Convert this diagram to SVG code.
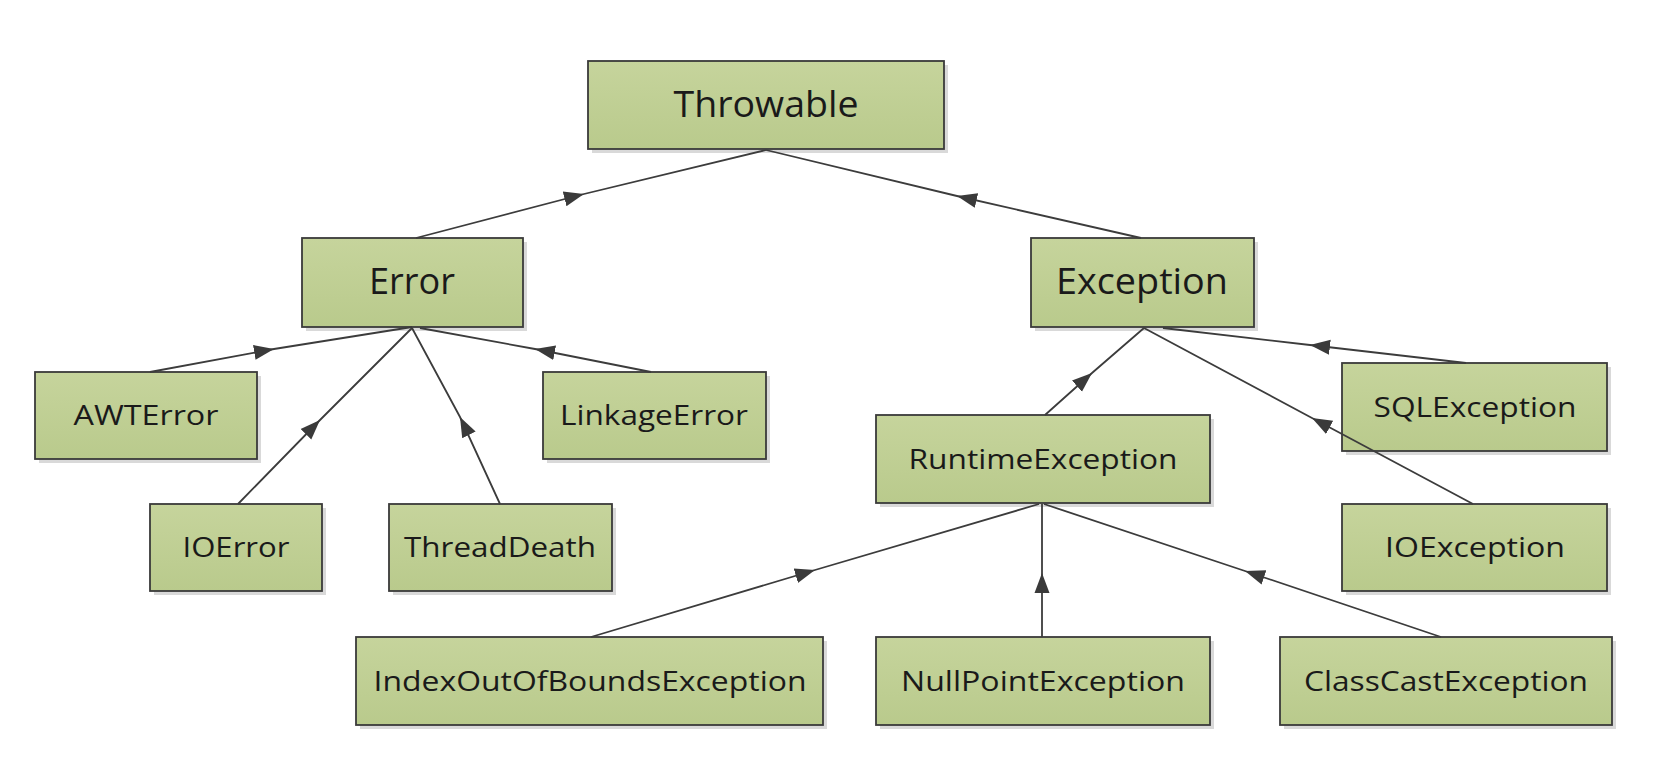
<svg xmlns="http://www.w3.org/2000/svg" width="1680" height="778" viewBox="0 0 1680 778">
<defs>
<linearGradient id="g" x1="0" y1="0" x2="0" y2="1">
<stop offset="0" stop-color="#c6d49c"/>
<stop offset="1" stop-color="#b9ca8c"/>
</linearGradient>
<marker id="arr" markerUnits="userSpaceOnUse" markerWidth="22" markerHeight="18" viewBox="0 0 22 18" refX="20" refY="9" orient="auto">
<path d="M0,1.5 L20,9 L0,16.5 z" fill="#3a3a3a"/>
</marker>
</defs>
<style>
.box{fill:url(#g);stroke:#3a3a3a;stroke-width:1.8}
.sh{fill:#d9d9d9}
.t{font-family:"Open Sans","Noto Sans","DejaVu Sans",sans-serif;fill:#1a1a1a;text-anchor:middle}
.big{font-size:36px}
.sm{font-size:28px}
.c{fill:none;stroke:#3c3c3c;stroke-width:1.8;marker-mid:url(#arr)}
</style>
<rect width="1680" height="778" fill="#ffffff"/>
<g id="n-throwable"><rect class="sh" x="592" y="65" width="356" height="88"/><rect class="box" x="588" y="61" width="356" height="88"/><text class="t big" x="766" y="117" textLength="185" lengthAdjust="spacingAndGlyphs">Throwable</text></g>
<g id="n-error"><rect class="sh" x="306" y="242" width="221" height="89"/><rect class="box" x="302" y="238" width="221" height="89"/><text class="t big" x="412" y="294" textLength="86" lengthAdjust="spacingAndGlyphs">Error</text></g>
<g id="n-exception"><rect class="sh" x="1035" y="242" width="223" height="89"/><rect class="box" x="1031" y="238" width="223" height="89"/><text class="t big" x="1142" y="294" textLength="172" lengthAdjust="spacingAndGlyphs">Exception</text></g>
<g id="n-awterror"><rect class="sh" x="39" y="376" width="222" height="87"/><rect class="box" x="35" y="372" width="222" height="87"/><text class="t sm" x="146" y="425" textLength="145" lengthAdjust="spacingAndGlyphs">AWTError</text></g>
<g id="n-linkageerror"><rect class="sh" x="547" y="376" width="223" height="87"/><rect class="box" x="543" y="372" width="223" height="87"/><text class="t sm" x="654" y="425" textLength="188" lengthAdjust="spacingAndGlyphs">LinkageError</text></g>
<g id="n-ioerror"><rect class="sh" x="154" y="508" width="172" height="87"/><rect class="box" x="150" y="504" width="172" height="87"/><text class="t sm" x="236" y="557" textLength="107" lengthAdjust="spacingAndGlyphs">IOError</text></g>
<g id="n-threaddeath"><rect class="sh" x="393" y="508" width="223" height="87"/><rect class="box" x="389" y="504" width="223" height="87"/><text class="t sm" x="500" y="557" textLength="192" lengthAdjust="spacingAndGlyphs">ThreadDeath</text></g>
<g id="n-runtimeexception"><rect class="sh" x="880" y="419" width="334" height="88"/><rect class="box" x="876" y="415" width="334" height="88"/><text class="t sm" x="1043" y="469" textLength="269" lengthAdjust="spacingAndGlyphs">RuntimeException</text></g>
<g id="n-sqlexception"><rect class="sh" x="1346" y="367" width="265" height="88"/><rect class="box" x="1342" y="363" width="265" height="88"/><text class="t sm" x="1475" y="417" textLength="203" lengthAdjust="spacingAndGlyphs">SQLException</text></g>
<g id="n-ioexception"><rect class="sh" x="1346" y="508" width="265" height="87"/><rect class="box" x="1342" y="504" width="265" height="87"/><text class="t sm" x="1475" y="557" textLength="180" lengthAdjust="spacingAndGlyphs">IOException</text></g>
<g id="n-indexoutofbounds"><rect class="sh" x="360" y="641" width="467" height="88"/><rect class="box" x="356" y="637" width="467" height="88"/><text class="t sm" x="590" y="691" textLength="433" lengthAdjust="spacingAndGlyphs">IndexOutOfBoundsException</text></g>
<g id="n-nullpoint"><rect class="sh" x="880" y="641" width="334" height="88"/><rect class="box" x="876" y="637" width="334" height="88"/><text class="t sm" x="1043" y="691" textLength="284" lengthAdjust="spacingAndGlyphs">NullPointException</text></g>
<g id="n-classcast"><rect class="sh" x="1284" y="641" width="332" height="88"/><rect class="box" x="1280" y="637" width="332" height="88"/><text class="t sm" x="1446" y="691" textLength="284" lengthAdjust="spacingAndGlyphs">ClassCastException</text></g>
<g id="connectors">
<path class="c" d="M416,238 L584,194 L766,150"/>
<path class="c" d="M1141,238 L957,196 L766,150"/>
<path class="c" d="M150,372 L274,349 L412,327"/>
<path class="c" d="M238,504 L320,420 L412,328"/>
<path class="c" d="M500,504 L460,417 L412,328"/>
<path class="c" d="M651,372 L535,349 L420,328"/>
<path class="c" d="M1045,415 L1092,373 L1144,328"/>
<path class="c" d="M1466,363 L1310,345 L1163,328"/>
<path class="c" d="M1473,504 L1312,418 L1144,328"/>
<path class="c" d="M591,637 L815,570 L1039,504"/>
<path class="c" d="M1042,637 L1042,573 L1042,504"/>
<path class="c" d="M1441,637 L1245,571 L1044,504"/>
</g>
</svg>
